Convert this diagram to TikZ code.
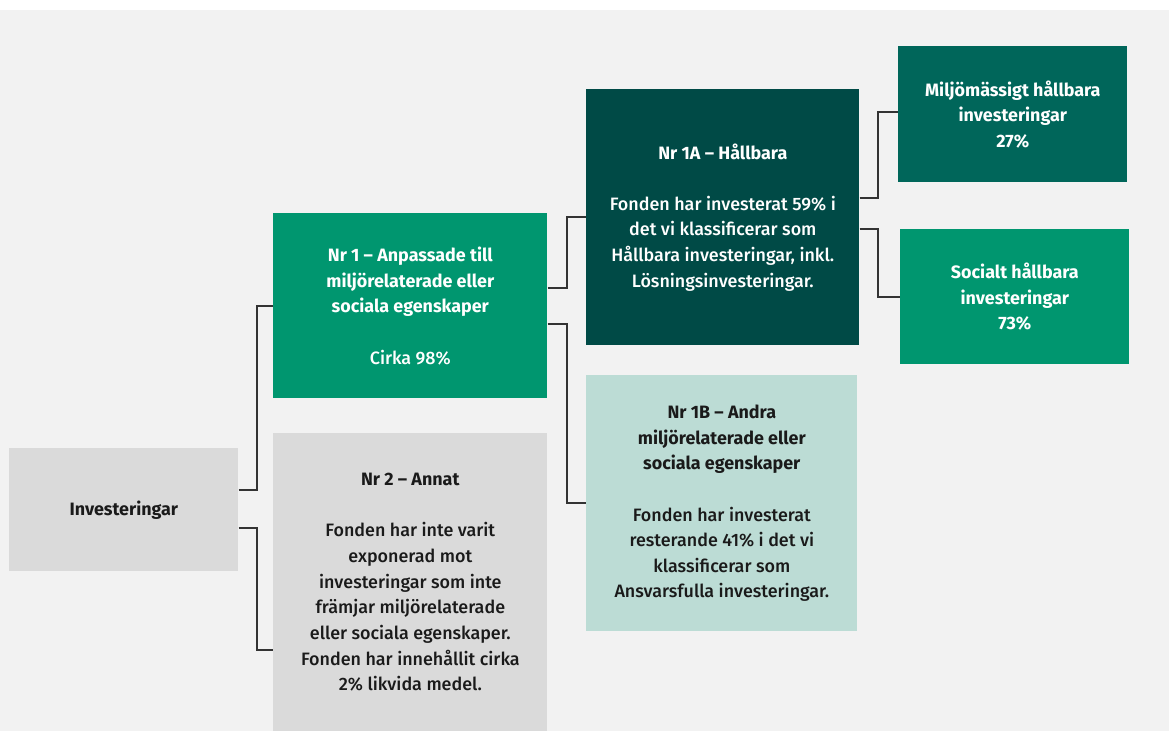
\documentclass[tikz,border=0pt]{standalone}
\usepackage{fontspec}
\setmainfont{Fira Sans}[UprightFont=* Medium, BoldFont=* Bold]
\usetikzlibrary{positioning, calc}

\definecolor{bggrey}{HTML}{F2F2F2}
\definecolor{boxgrey}{HTML}{DADADA}
\definecolor{sebgreen}{HTML}{00966F}
\definecolor{darkteal}{HTML}{004A46}
\definecolor{midteal}{HTML}{00665A}
\definecolor{paleteal}{HTML}{BCDCD5}
\definecolor{inktext}{HTML}{1A1A1A}
\definecolor{linegrey}{HTML}{333333}

\begin{document}
\begin{tikzpicture}[
    x=0.02cm, y=-0.02cm,
    font=\fontsize{10.2}{14.6}\selectfont,
    % Estilos de cajas
    box/.style={rectangle, anchor=north west, inner sep=0pt, align=center},
    greybox/.style={box, fill=boxgrey, text=inktext},
    greenbox/.style={box, fill=sebgreen, text=white},
    darkbox/.style={box, fill=darkteal, text=white},
    midbox/.style={box, fill=midteal, text=white},
    palebox/.style={box, fill=paleteal, text=inktext},
    link/.style={draw=linegrey, line width=1pt}
]

% fondo
\useasboundingbox (0,0) rectangle (1169,731);
\fill[white] (0,0) rectangle (1169,731);
\fill[bggrey] (0,10) rectangle (1169,731);

% -------------------------
% RAIZ
% -------------------------
\node[greybox, minimum width=4.58cm, minimum height=2.46cm] (inv) at (9,448) {\textbf{Investeringar}};

% -------------------------
% NIVEL 1
% -------------------------
\node[greenbox, minimum width=5.48cm, minimum height=3.70cm] (nr1) at (273,213) {
    \textbf{Nr 1 -- Anpassade till}\\
    \textbf{miljörelaterade eller}\\
    \textbf{sociala egenskaper}\\[14.6pt]
    Cirka 98\%
};

\node[greybox, minimum width=5.48cm, minimum height=5.96cm] (nr2) at (273,433) {
    \textbf{Nr 2 -- Annat}\\[14.6pt]
    Fonden har inte varit\\
    exponerad mot\\
    investeringar som inte\\
    främjar miljörelaterade\\
    eller sociala egenskaper.\\
    Fonden har innehållit cirka\\
    2\% likvida medel.
};

% -------------------------
% NIVEL 2
% -------------------------
\node[darkbox, minimum width=5.46cm, minimum height=5.12cm] (nr1a) at (586,89) {
    \textbf{Nr 1A -- Hållbara}\\[14.6pt]
    Fonden har investerat 59\% i\\
    det vi klassificerar som\\
    Hållbara investeringar, inkl.\\
    Lösningsinvesteringar.
};

\node[palebox, minimum width=5.42cm, minimum height=5.12cm] (nr1b) at (586,375) {
    \textbf{Nr 1B -- Andra}\\
    \textbf{miljörelaterade eller}\\
    \textbf{sociala egenskaper}\\[14.6pt]
    Fonden har investerat\\
    resterande 41\% i det vi\\
    klassificerar som\\
    Ansvarsfulla investeringar.
};

% -------------------------
% NIVEL 3
% -------------------------
\node[midbox, minimum width=4.58cm, minimum height=2.72cm] (miljo) at (898,46) {
    \textbf{Miljömässigt hållbara}\\
    \textbf{investeringar}\\
    \textbf{27\%}
};

\node[greenbox, minimum width=4.58cm, minimum height=2.70cm] (socialt) at (900,229) {
    \textbf{Socialt hållbara}\\
    \textbf{investeringar}\\
    \textbf{73\%}
};

% Conexiones
\draw[link] ($(inv.east)+(0,-20)$) -- ++(18,0) |- (nr1.west);
\draw[link] ($(inv.east)+(0,18)$) -- ++(18,0) |- ($(nr2.west)+(0,68)$);
\draw[link] ($(nr1.east)+(0,-18)$) -- ++(19,0) |- (nr1a.west);
\draw[link] ($(nr1.east)+(0,18)$) -- ++(19,0) |- (nr1b.west);
\draw[link] ($(nr1a.east)+(0,-19)$) -- ++(18,0) |- ($(miljo.west)+(0,-2)$);
\draw[link] ($(nr1a.east)+(0,12)$) -- ++(18,0) |- (socialt.west);

\end{tikzpicture}
\end{document}
